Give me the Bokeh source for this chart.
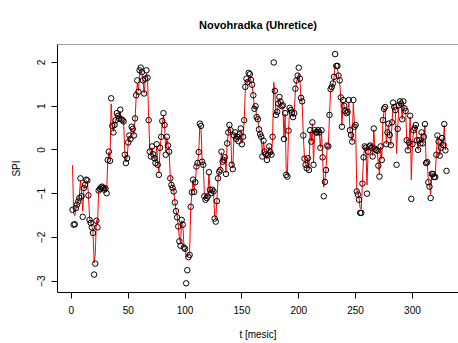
from bokeh.plotting import figure
from bokeh.models import Range1d, Span, FixedTicker, Title
from bokeh.embed import file_html
from bokeh.resources import INLINE

# Observed SPI values (circles), t = 1..330
spi_obs = [
    -1.37, -1.71, -1.70, -1.33, -1.25, -1.18, -1.10, -0.65, -1.06, -1.53,
    -0.87, -0.80, -0.68, -0.70, -1.04, -1.60, -1.67, -1.77, -1.90, -2.85,
    -2.60, -1.62, -1.77, -0.93, -0.89, -0.86, -0.84, -0.87, -0.91, -0.88,
    -0.99, -0.23, -0.04, -0.25, 1.18, 0.55, 0.40, 0.57, 0.68, 0.84,
    0.78, 0.71, 0.92, 0.70, 0.68, 0.65, -0.11, -0.30, -0.19, 0.17,
    0.33, 0.25, 0.53, 0.48, 0.33, 0.72, 1.25, 1.59, 1.33, 1.82,
    1.88, 1.78, 1.59, 1.29, 1.63, 1.82, 1.65, 0.68, -0.04, -0.15,
    0.08, -0.10, -0.19, -0.30, 0.13, -0.34, -0.57, 0.05, 0.30, 0.66,
    0.84, 0.57, -0.11, 0.30, 0.10, -0.04, -0.65, -0.80, -0.87, -0.95,
    -1.20, -1.40, -1.54, -1.75, -2.09, -2.19, -1.60, -1.71, -2.23, -2.26,
    -3.05, -2.75, -2.45, -2.40, -1.30, -0.97, -0.68, -0.96, -0.74, -0.38,
    -0.30, -0.05, 0.60, 0.55, -0.27, -0.34, -1.06, -1.14, -1.10, -1.06,
    -0.51, -0.91, -0.99, -0.91, -0.95, -1.57, -1.64, -1.17, -0.65, -0.50,
    -0.46, -0.04, -0.27, -0.23, -0.17, -0.55, 0.15, 0.40, 0.57, 0.45,
    -0.34, -0.44, 0.33, 0.40, 0.25, 0.30, 0.20, 0.36, 0.49, 0.13,
    0.30, 0.68, 1.44, 1.63, 1.55, 1.76, 1.73, 1.60, 1.49, 1.25,
    0.94, 1.00, 0.75, 0.70, 0.47, 0.36, 0.30, -0.15, 0.21, -0.04,
    -0.10, -0.23, -0.11, 0.08, -0.05, -0.11, 0.30, 2.00, 1.35, 0.80,
    0.87, 1.06, 1.21, 1.10, 1.00, 1.02, 0.25, 0.84, -0.57, -0.61,
    0.44, 0.96, 0.91, 0.85, 0.75, 0.84, 1.40, 1.59, 1.70, 1.88,
    1.63, 1.19, 1.11, 0.33, -0.20, -0.34, -0.42, -0.19, -0.46, 0.45,
    0.19, 0.63, -0.34, 0.45, 0.40, 0.40, 0.45, 0.40, 0.05, 0.45,
    -0.17, -1.06, -0.73, -0.46, 0.10, 0.08, 0.80, 1.39, 1.44, 1.52,
    1.67, 2.19, 1.92, 1.92, 1.70, 1.59, 1.20, 0.53, 1.14, 1.01,
    0.89, 0.84, 0.87, 1.14, 0.45, 0.34, 0.19, 1.14, 0.53, 0.57,
    -0.95, -1.02, -1.14, -1.44, -1.44, -0.77, -0.17, 0.08, 0.05, -1.00,
    -0.04, 0.08, 0.10, 0.05, -0.15, 0.49, 0.03, 0.00, -0.02, -0.36,
    -0.61, 0.08, -0.23, 0.68, 0.94, 0.98, 0.13, 0.40, 0.60, 0.34,
    0.11, 0.63, 1.08, 0.98, 0.91, -0.34, 0.48, 1.02, 1.11, 1.06,
    0.70, 1.11, 0.95, 0.89, 0.22, -0.01, 0.17, 0.78, -1.12, 0.13,
    0.45, 0.50, 0.57, 0.22, 0.00, 0.22, 0.15, 0.40, 0.15, 0.30,
    0.59, -0.30, -0.28, -0.74, -0.84, -1.10, -0.55, -0.55, -0.62, -0.62,
    -0.11, 0.33, 0.19, -0.13, 0.05, 0.27, 0.11, 0.59, -0.01, -0.48,
]

# Modelled SPI values (red line), t = 1..330
spi_model = [
    -0.35, -1.45, -1.50, -1.35, -1.25, -1.15, -1.05, -0.70, -1.00, -1.40,
    -0.90, -0.80, -0.70, -0.72, -1.00, -1.55, -1.65, -1.75, -1.85, -2.58,
    -2.40, -1.60, -1.70, -0.95, -0.90, -0.85, -0.84, -0.87, -0.90, -0.88,
    -0.95, -0.25, -0.05, -0.20, 1.05, 0.58, 0.42, 0.57, 0.68, 0.80,
    0.78, 0.72, 0.88, 0.70, 0.68, 0.62, -0.05, -0.28, -0.18, 0.15,
    0.32, 0.27, 0.50, 0.47, 0.35, 0.70, 1.20, 1.52, 1.35, 1.72,
    1.80, 1.75, 1.58, 1.30, 1.58, 1.75, 1.62, 0.72, 0.00, -0.12,
    0.05, -0.08, -0.18, -0.28, 0.10, -0.30, -0.52, 0.02, 0.28, 0.62,
    0.80, 0.58, -0.05, 0.28, 0.10, -0.02, -0.62, -0.78, -0.85, -0.92,
    -1.18, -1.38, -1.50, -1.72, -2.02, -2.12, -1.62, -1.70, -2.18, -2.22,
    -2.45, -2.40, -2.42, -2.35, -1.32, -0.98, -0.70, -0.92, -0.75, -0.40,
    -0.30, -0.08, 0.55, 0.52, -0.25, -0.32, -1.02, -1.10, -1.08, -1.04,
    -0.55, -0.90, -0.97, -0.90, -0.95, -1.50, -1.58, -1.15, -0.65, -0.52,
    -0.45, -0.06, -0.26, -0.22, -0.17, -0.52, 0.12, 0.38, 0.55, 0.44,
    -0.30, -0.40, 0.30, 0.38, 0.26, 0.29, 0.21, 0.35, 0.46, 0.15,
    0.30, 0.65, 1.38, 1.58, 1.52, 1.70, 1.68, 1.58, 1.46, 1.24,
    0.95, 0.98, 0.76, 0.70, 0.48, 0.37, 0.30, -0.12, 0.20, -0.03,
    -0.09, -0.21, -0.10, 0.07, -0.04, -0.10, 0.28, 1.55, 1.30, 0.82,
    0.86, 1.04, 1.18, 1.08, 1.00, 1.00, 0.28, 0.82, -0.52, -0.58,
    0.42, 0.92, 0.90, 0.84, 0.75, 0.83, 1.35, 1.55, 1.65, 1.75,
    1.60, 1.18, 1.08, 0.35, -0.18, -0.32, -0.40, -0.18, -0.42, 0.42,
    0.20, 0.60, -0.30, 0.43, 0.40, 0.40, 0.44, 0.40, 0.06, 0.42,
    -0.15, -0.85, -0.70, -0.44, 0.08, 0.08, 0.76, 1.34, 1.42, 1.50,
    1.64, 1.95, 1.88, 1.86, 1.68, 1.55, 1.18, 0.56, 1.10, 1.00,
    0.88, 0.84, 0.87, 1.10, 0.46, 0.36, 0.20, 1.08, 0.54, 0.55,
    -0.90, -0.98, -1.10, -1.33, -1.35, -0.75, -0.15, 0.07, 0.05, -0.80,
    -0.03, 0.07, 0.09, 0.05, -0.13, 0.46, 0.04, 0.00, -0.02, -0.33,
    -0.56, 0.07, -0.20, 0.65, 0.90, 0.95, 0.14, 0.40, 0.58, 0.34,
    0.12, 0.60, 1.04, 0.96, 0.90, -0.08, 0.46, 0.98, 1.08, 1.04,
    0.70, 1.08, 0.94, 0.88, 0.23, 0.00, 0.17, 0.76, -0.68, 0.14,
    0.44, 0.50, 0.56, 0.23, 0.01, 0.22, 0.15, 0.39, 0.16, 0.30,
    0.57, -0.28, -0.26, -0.70, -0.80, -1.02, -0.53, -0.54, -0.60, -0.60,
    -0.10, 0.32, 0.19, -0.12, 0.05, 0.26, 0.11, 0.57, 0.00, 0.15,
]

t_months = list(range(1, len(spi_obs) + 1))
x_ticks = [0, 50, 100, 150, 200, 250, 300]
y_ticks = [-3, -2, -1, 0, 1, 2]

FONT = "Liberation Sans"

p = figure(
    width=458, height=343,
    x_range=Range1d(-12.2, 340.5), y_range=Range1d(-3.26, 2.41),
    output_backend="svg", toolbar_location=None,
    min_border_left=57, min_border_right=0, min_border_top=44, min_border_bottom=51,
    background_fill_color="white", border_fill_color="white",
)
p.title = Title(text="Novohradka (Uhretice)", align="center",
                text_font=FONT, text_font_size="11px", text_font_style="bold",
                text_color="black", standoff=27)
p.outline_line_color = None
p.grid.visible = False

p.line(t_months, spi_model, line_color="red", line_width=1)
p.scatter(t_months, spi_obs, marker="circle", size=5.5,
          fill_color=None, line_color="black", line_width=1)

# top border of the box
p.add_layout(Span(location=2.41, dimension="width", line_color="#444444", line_width=1))

xa = p.xaxis[0]
xa.ticker = FixedTicker(ticks=x_ticks)
xa.axis_label = "t [mesic]"
ya = p.yaxis[0]
ya.ticker = FixedTicker(ticks=y_ticks)
ya.axis_label = "SPI"
ya.major_label_orientation = "vertical"

for ax in (xa, ya):
    ax.axis_line_color = "black"
    ax.axis_line_width = 1
    ax.major_tick_line_color = "black"
    ax.major_tick_in = 0
    ax.major_tick_out = 6
    ax.minor_tick_line_color = None
    ax.major_label_text_font = FONT
    ax.major_label_text_font_size = "10px"
    ax.major_label_text_color = "black"
    ax.axis_label_text_font = FONT
    ax.axis_label_text_font_size = "10px"
    ax.axis_label_text_font_style = "normal"
    ax.axis_label_text_color = "black"

xa.major_label_standoff = 7
xa.axis_label_standoff = 12
ya.major_label_standoff = 6
ya.axis_label_standoff = 13

open("out.html", "w").write(file_html(p, INLINE))
